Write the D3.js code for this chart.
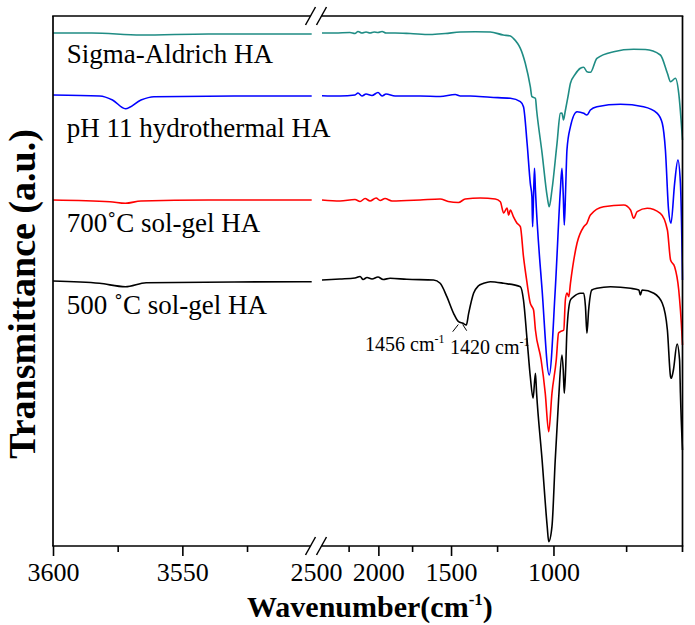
<!DOCTYPE html>
<html>
<head>
<meta charset="utf-8">
<script src="https://cdn.jsdelivr.net/npm/d3@7"></script>
<style>
  body { margin: 0; background: #fff; }
  text { font-family: "Liberation Serif", "Times New Roman", serif; }
</style>
</head>
<body>
<svg id="chart" width="695" height="625"></svg>
<script>
// FTIR spectra of HA samples, broken wavenumber axis (3600-3500 | 2500-600 cm-1)

//// DATA ///////////////////////////////////////////////////////////////////////

var seriesNames = ["Sigma-Aldrich HA", "pH 11 hydrothermal HA", "700\u02DAC sol-gel HA", "500 \u02DAC sol-gel HA"];
var seriesColors = ["#1f8c84", "#0000ff", "#ff0000", "#000000"];

var leftMajorTicks = [3600, 3550];
var leftMinorTicks = [3575, 3525];
var rightMajorTicks = [2500, 2000, 1500, 1000];
var rightMinorTicks = [2250, 1750, 1250, 750];

// [wavenumber, transmittance (a.u., stacked)]
var sigmaLeft = [[3600,513],[3585,513],[3566,511],[3540,512],[3500,512]];
var sigmaRight = [
  [2500,513],[2375,513],[2238,513.5],[2194,512.5],[2168,514.5],[2134,513],[2100,514],[2067,513],
  [2034,514],[2003,513.5],[1971,514.5],[1940,513],[1872,513],[1764,512.5],[1629,511.5],[1535,512.5],
  [1446,514],[1363,514.3],[1284,514],[1220,511],[1186,510],[1172,507.7],[1154,503],[1140,497.7],
  [1118,482.7],[1096,459.3],[1089,449.3],[1074,447.7],[1069,436],[1046,392.7],[1025,349.3],[1017,339.3],
  [1006,356],[986,402.7],[973,432.7],[967,433],[961,426],[955,434],[943,451],[935,462.7],[917,472],
  [899,477.7],[887,478.7],[876,474.3],[864,473.7],[842,487.7],[788,494.3],[728,496.7],[695,496.5],
  [655,491],[637,472.7],[629,464.3],[617,467.7],[609,452.7],[600,406]];

var ph11Left = [[3600,451],[3582,450],[3577,446],[3572,437.3],[3566,446],[3561,449.3],[3530,450],[3500,450]];
var ph11Right = [
  [2500,450.3],[2328,450],[2194,451],[2168,453],[2134,450],[2100,452],[2051,450.5],[2003,453.5],
  [1971,450],[1940,452],[1872,450],[1695,450],[1566,449.5],[1475,451.5],[1446,450],[1390,450],
  [1284,448.7],[1186,447.7],[1140,444.3],[1126,439.3],[1110,402.7],[1096,362.7],[1089,349.3],[1086,319.3],
  [1082,350],[1078,377.7],[1074,356],[1046,256],[1017,171],[993,256],[973,356],[967,377.7],[962,351],
  [958,321],[953,356],[948,396],[935,419.3],[911,434.3],[887,432.7],[876,431],[864,436],[842,439.3],
  [767,441.7],[700,439.3],[663,432.7],[650,422.7],[642,396],[634,336],[628,322.7],[619,362.7],
  [611,386],[605,363],[601,293],[600,266]];

var sg700Left = [[3600,346],[3578,344.3],[3572,342.7],[3566,345],[3540,346],[3500,346]];
var sg700Right = [
  [2500,346],[2328,345],[2194,346.5],[2150,344.5],[2108,347.5],[2067,345],[2018,348],[1986,345.5],
  [1948,347.5],[1895,345],[1695,346],[1566,347],[1517,344.5],[1457,343.5],[1418,347],[1336,348],[1259,347],
  [1234,344.3],[1218,333],[1202,338],[1194,331],[1186,336],[1172,329.3],[1156,323],[1140,319.3],
  [1126,289.3],[1110,262.7],[1096,242.7],[1089,239.3],[1082,236],[1074,216],[1050,186],[1033,152.7],
  [1019,114.3],[1006,152.7],[989,186],[980,213],[973,214.3],[960,216],[954,246],[948,253],[941,249.3],
  [935,262.7],[911,302.7],[887,319.3],[876,322.7],[864,331],[820,339.3],[757,341],[737,336],[728,327.7],
  [718,334.3],[690,337.7],[655,332.7],[637,316],[629,286],[619,279.3],[609,256],[601,209.3],[600,201]];

var sg500Left = [[3600,265],[3582,262.7],[3572,259.3],[3564,263.3],[3530,264],[3500,264.3]];
var sg500Right = [
  [2500,266],[2328,267],[2194,268],[2150,269.5],[2125,266.5],[2092,268.5],[2051,267],[2003,269],
  [1963,266.5],[1909,267.7],[1787,266.7],[1608,266],[1566,262.7],[1525,249.3],[1485,232.7],[1456,224.3],
  [1431,222.7],[1412,221],[1399,232.7],[1372,252.7],[1347,260],[1318,262.7],[1284,264.3],[1218,262.7],
  [1140,259.3],[1126,246],[1110,206],[1096,169.3],[1084,147.7],[1074,172.7],[1069,152.7],[1046,86],
  [1025,19.3],[1019,4.3],[1006,19.3],[993,86],[980,146],[967,191],[962,176],[958,152.7],[953,176],
  [948,216],[935,246],[923,249.3],[899,252.7],[887,252.7],[881,239.3],[876,212.7],[870,236],[859,256],
  [842,257.7],[798,259.3],[737,257.7],[713,256],[709,251],[704,256],[672,252.7],[650,242.7],[637,216],
  [629,169.3],[627,167.7],[622,176],[613,202],[607,186],[605,153],[600,96]];

var seriesLeft = [sigmaLeft, ph11Left, sg700Left, sg500Left];
var seriesRight = [sigmaRight, ph11Right, sg700Right, sg500Right];

//// LAYOUT /////////////////////////////////////////////////////////////////////

var plot = { left: 53, right: 682.5, top: 16, bottom: 546 };
var breakA = 310.5, breakB = 321.5;

var svg = d3.select("#chart");

var xLeft = d3.scaleLinear().domain([3600, 3500]).range([plot.left, 311.7]);
var xRight = d3.scaleLog().domain([2500, 600]).range([322, plot.right]);
var y = d3.scaleLinear().domain([0, 530]).range([plot.bottom, plot.top]);

//// CURVES /////////////////////////////////////////////////////////////////////

function lineFor(xs) {
  return d3.line()
    .x(function(d) { return xs(d[0]); })
    .y(function(d) { return y(d[1]); })
    .curve(d3.curveMonotoneX);
}

seriesNames.forEach(function(name, i) {
  [[xLeft, seriesLeft[i]], [xRight, seriesRight[i]]].forEach(function(part) {
    svg.append("path")
      .datum(part[1])
      .attr("fill", "none")
      .attr("stroke", seriesColors[i])
      .attr("stroke-width", 1.6)
      .attr("stroke-linejoin", "round")
      .attr("d", lineFor(part[0]));
  });
});

//// FRAME //////////////////////////////////////////////////////////////////////

var frame = svg.append("g").attr("stroke", "#000").attr("stroke-width", 1.7).attr("fill", "none");

frame.append("line").attr("x1", plot.left).attr("x2", plot.left).attr("y1", plot.top).attr("y2", plot.bottom);
frame.append("line").attr("x1", plot.right).attr("x2", plot.right).attr("y1", plot.top).attr("y2", plot.bottom + 6);

[plot.top, plot.bottom].forEach(function(yy) {
  frame.append("line").attr("x1", plot.left - 0.8).attr("x2", breakA).attr("y1", yy).attr("y2", yy);
  frame.append("line").attr("x1", breakB).attr("x2", plot.right + 0.8).attr("y1", yy).attr("y2", yy);
  [breakA, breakB].forEach(function(cx) {
    frame.append("line")
      .attr("stroke-width", 1.5)
      .attr("x1", cx - 5).attr("y1", yy + 9)
      .attr("x2", cx + 5).attr("y2", yy - 9);
  });
});

//// AXES ///////////////////////////////////////////////////////////////////////

function drawTicks(scale, values, size, labelled) {
  var axis = d3.axisBottom(scale)
    .tickValues(values)
    .tickSize(size)
    .tickPadding(7)
    .tickFormat(labelled ? d3.format("d") : function() { return ""; });

  var g = svg.append("g")
    .attr("transform", "translate(0," + plot.bottom + ")")
    .call(axis);

  // axis() writes its own font attributes, so set ours afterwards
  g.attr("font-family", "Liberation Serif, Times New Roman, serif")
   .attr("font-size", 26);
  g.select(".domain").remove();
  g.selectAll(".tick line").attr("stroke", "#000").attr("stroke-width", 1.6);
  g.selectAll(".tick text").attr("fill", "#000");
  return g;
}

drawTicks(xLeft, leftMajorTicks, 10, true);
drawTicks(xLeft, leftMinorTicks, 6, false);
var rightAxis = drawTicks(xRight, rightMajorTicks, 10, true);
drawTicks(xRight, rightMinorTicks, 6, false);

// 2500 sits on the axis break: no tick mark, label nudged left
rightAxis.selectAll(".tick")
  .filter(function(d) { return d === 2500; })
  .call(function(t) {
    t.select("line").remove();
    t.select("text").attr("dx", -6);
  });

//// TEXT ///////////////////////////////////////////////////////////////////////

var labelBaselines = [63.3, 136.7, 231.7, 314];

svg.selectAll(".series-label")
  .data(seriesNames)
  .enter().append("text")
    .attr("class", "series-label")
    .attr("x", 66.7)
    .attr("y", function(d, i) { return labelBaselines[i]; })
    .attr("font-size", 27)
    .attr("fill", "#000")
    .text(function(d) { return d; });

function annotate(x, yy, value) {
  var t = svg.append("text").attr("x", x).attr("y", yy).attr("font-size", 20).attr("fill", "#000");
  t.append("tspan").text(value + " cm");
  t.append("tspan").attr("font-size", 12).attr("dy", -8).text("-1");
}

annotate(365, 350.7, 1456);
annotate(450, 354, 1420);

svg.append("line").attr("x1", 452.7).attr("y1", 331.7).attr("x2", 458.3).attr("y2", 324.5)
  .attr("stroke", "#000").attr("stroke-width", 1);
svg.append("line").attr("x1", 462.7).attr("y1", 324.5).attr("x2", 466.7).attr("y2", 330.7)
  .attr("stroke", "#000").attr("stroke-width", 1);

var xTitle = svg.append("text")
  .attr("x", 247)
  .attr("y", 616.7)
  .attr("font-size", 30)
  .attr("font-weight", "bold")
  .attr("fill", "#000");
xTitle.append("tspan").text("Wavenumber(cm");
xTitle.append("tspan").attr("font-size", 17).attr("dy", -12).text("-1");
xTitle.append("tspan").attr("dy", 12).text(")");

svg.append("text")
  .attr("transform", "translate(35,294) rotate(-90)")
  .attr("text-anchor", "middle")
  .attr("font-size", 38)
  .attr("font-weight", "bold")
  .attr("fill", "#000")
  .text("Transmittance (a.u.)");
</script>
</body>
</html>
